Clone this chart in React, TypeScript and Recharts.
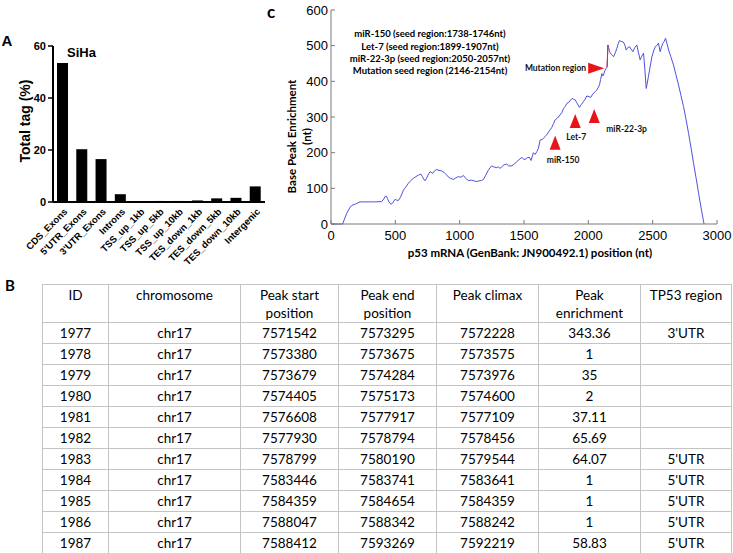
import React from 'react';
import { BarChart, Bar, XAxis, YAxis, ComposedChart, Line, Scatter } from 'recharts';

// ---------- Panel A data ----------
const regionCategories = ['CDS_Exons', "5'UTR_Exons", "3'UTR_Exons", 'Introns', 'TSS_up_1kb', 'TSS_up_5kb', 'TSS_up_10kb', 'TES_down_1kb', 'TES_down_5kb', 'TES_down_10kb', 'Intergenic'];
const totalTagPercent = [53.5, 20.3, 16.5, 3.0, 0.1, 0.4, 0.4, 0.6, 1.4, 1.6, 6.0];
const barYTicks = [0, 20, 40, 60];

// ---------- Panel C data ----------
const positionNt = [0, 90, 122, 145, 161, 190, 225, 260, 300, 340, 394, 410, 420, 430, 438, 450, 467, 480, 498, 510, 524, 540, 563, 580, 601, 620, 640, 660, 680, 697, 710, 720, 731, 745, 755, 770, 790, 805, 822, 840, 860, 880, 900, 915, 930, 951, 965, 980, 990, 1010, 1029, 1042, 1055, 1070, 1094, 1110, 1133, 1150, 1170, 1185, 1200, 1223, 1235, 1249, 1265, 1288, 1300, 1314, 1330, 1345, 1366, 1380, 1405, 1425, 1444, 1460, 1483, 1495, 1508, 1525, 1542, 1555, 1573, 1586, 1600, 1612, 1625, 1640, 1650, 1664, 1680, 1703, 1715, 1730, 1742, 1760, 1781, 1795, 1807, 1820, 1833, 1850, 1872, 1885, 1898, 1910, 1931, 1945, 1962, 1975, 1988, 2005, 2019, 2035, 2053, 2065, 2075, 2087, 2095, 2105, 2112, 2118, 2128, 2138, 2146, 2152, 2158, 2165, 2180, 2196, 2210, 2222, 2232, 2242, 2255, 2273, 2285, 2294, 2305, 2320, 2333, 2346, 2360, 2377, 2390, 2403, 2415, 2429, 2438, 2450, 2458, 2467, 2480, 2494, 2507, 2520, 2532, 2545, 2558, 2570, 2579, 2590, 2600, 2612, 2624, 2640, 2662, 2680, 2701, 2720, 2740, 2760, 2779, 2800, 2818, 2838, 2857, 2875, 2896, 2900];
const enrichmentNt = [0, 0, 30, 45, 52, 56, 62, 62, 62, 62, 63, 70, 77, 78, 72, 62, 55, 60, 69, 67, 66, 75, 95, 103, 114, 122, 128, 133, 137, 140, 133, 126, 121, 130, 138, 147, 142, 149, 153, 150, 149, 144, 137, 131, 128, 125, 128, 131, 133, 131, 136, 130, 125, 122, 123, 121, 119, 121, 122, 125, 135, 151, 157, 163, 160, 158, 160, 156, 161, 166, 168, 163, 163, 168, 175, 180, 187, 182, 181, 186, 187, 178, 200, 195, 203, 212, 235, 237, 240, 245, 252, 264, 270, 282, 292, 297, 306, 313, 324, 330, 338, 342, 352, 350, 348, 340, 327, 335, 343, 350, 359, 357, 355, 365, 371, 375, 382, 390, 405, 422, 415, 418, 430, 436, 440, 502, 495, 483, 475, 469, 480, 493, 505, 514, 512, 510, 500, 488, 494, 497, 490, 483, 494, 502, 480, 460, 470, 479, 440, 380, 395, 413, 440, 469, 485, 497, 500, 507, 483, 498, 507, 512, 521, 505, 488, 470, 446, 420, 390, 360, 329, 292, 254, 210, 170, 128, 86, 48, 6, 0];
const mutationPositionNt = [2146, 2149, 2152];
const mutationEnrichmentNt = [440, 470, 502];

const markerNames = ['miR-150', 'Let-7', 'miR-22-3p', 'Mutation region'];
const markerPositionNt = [1742, 1898, 2046, 2061];
const markerEnrichmentNt = [228, 289, 303, 437];

const seedLegendLines = [
  'miR-150 (seed region:1738-1746nt)',
  'Let-7 (seed region:1899-1907nt)',
  'miR-22-3p (seed region:2050-2057nt)',
  'Mutation seed region (2146-2154nt)',
];
const lineXTicks = [0, 500, 1000, 1500, 2000, 2500, 3000];
const lineYTicks = [0, 100, 200, 300, 400, 500, 600];

// ---------- Panel B data ----------
const tableHeaders = [['ID'], ['chromosome'], ['Peak start', 'position'], ['Peak end', 'position'], ['Peak climax'], ['Peak', 'enrichment'], ['TP53 region']];
const peakIds = ['1977', '1978', '1979', '1980', '1981', '1982', '1983', '1984', '1985', '1986', '1987'];
const peakChromosomes = ['chr17', 'chr17', 'chr17', 'chr17', 'chr17', 'chr17', 'chr17', 'chr17', 'chr17', 'chr17', 'chr17'];
const peakStarts = ['7571542', '7573380', '7573679', '7574405', '7576608', '7577930', '7578799', '7583446', '7584359', '7588047', '7588412'];
const peakEnds = ['7573295', '7573675', '7574284', '7575173', '7577917', '7578794', '7580190', '7583741', '7584654', '7588342', '7593269'];
const peakClimaxes = ['7572228', '7573575', '7573976', '7574600', '7577109', '7578456', '7579544', '7583641', '7584359', '7588242', '7592219'];
const peakEnrichments = ['343.36', '1', '35', '2', '37.11', '65.69', '64.07', '1', '1', '1', '58.83'];
const tp53Regions = ["3'UTR", '', '', '', '', '', "5'UTR", "5'UTR", "5'UTR", "5'UTR", "5'UTR"];

const barData = regionCategories.map((c, i) => ({ name: c, value: totalTagPercent[i] }));
const lineData = positionNt.map((x, i) => ({ x, y: enrichmentNt[i] }));
const mutationData = mutationPositionNt.map((x, i) => ({ x, y: mutationEnrichmentNt[i] }));
const markerData = markerNames.map((name, i) => ({ name, x: markerPositionNt[i], y: markerEnrichmentNt[i] }));
const tableRows = peakIds.map((id, i) => [id, peakChromosomes[i], peakStarts[i], peakEnds[i], peakClimaxes[i], peakEnrichments[i], tp53Regions[i]]);

const ARIAL = 'Liberation Sans, Arial, sans-serif';
const CAL = 'Lato, Open Sans, sans-serif';

const BarTick = (props: any) => {
  const { x, y, payload } = props;
  return (
    <g transform={`translate(${x + 3},${y + 2}) rotate(-45)`}>
      <text x={0} y={0} dy="0.35em" textAnchor="end" fontSize={9.5} fontWeight="bold" fontFamily={ARIAL} fill="#000">
        {payload.value}
      </text>
    </g>
  );
};

const markerStyle: Record<string, { dir: string; dx: number; dy: number; anchor: string }> = {
  'miR-150': { dir: 'up', dx: 8, dy: 17, anchor: 'middle' },
  'Let-7': { dir: 'up', dx: 1, dy: 16, anchor: 'middle' },
  'miR-22-3p': { dir: 'up', dx: 12, dy: 13, anchor: 'start' },
  'Mutation region': { dir: 'right', dx: -10, dy: 0, anchor: 'end' },
};

const MarkerShape = (props: any) => {
  const { cx, cy, payload } = props;
  const st = markerStyle[payload.name];
  const pts = st.dir === 'up'
    ? `${cx - 5.5},${cy + 7} ${cx + 5.5},${cy + 7} ${cx},${cy - 7}`
    : `${cx - 8},${cy - 5.5} ${cx - 8},${cy + 5.5} ${cx + 8},${cy}`;
  return (
    <g>
      <polygon points={pts} fill="#e8141a" />
      <text x={cx + st.dx} y={cy + st.dy} dy="0.35em" textAnchor={st.anchor} fontSize={8.5} fontWeight="bold" fontFamily={CAL} fill="#111">
        {payload.name}
      </text>
    </g>
  );
};

export default function App() {
  const axisGrey = '#7a7a7a';
  return (
    <div style={{ position: 'absolute', left: 0, top: 0, width: 733, height: 553, background: '#fff', overflow: 'hidden' }}>
      {/* Panel A */}
      <div style={{ position: 'absolute', left: 0, top: 0 }}>
        <BarChart width={280} height={280} data={barData} margin={{ top: 46, right: 15, left: 0, bottom: 0 }}>
          <XAxis dataKey="name" interval={0} height={78} tick={<BarTick />} tickLine={false} tickSize={4} tickMargin={2} axisLine={{ stroke: '#000', strokeWidth: 2 }} />
          <YAxis width={53} domain={[0, 60]} ticks={barYTicks} interval={0} tickSize={5} tickMargin={2}
            tick={{ fontSize: 11, fontWeight: 'bold', fontFamily: ARIAL, fill: '#000' }}
            tickLine={{ stroke: '#000', strokeWidth: 1.5 }} axisLine={{ stroke: '#000', strokeWidth: 2 }} />
          <Bar dataKey="value" fill="#000" barSize={11} isAnimationActive={false} />
        </BarChart>
      </div>

      {/* Panel C */}
      <div style={{ position: 'absolute', left: 270, top: 0 }}>
        <ComposedChart width={463} height={270} data={lineData} margin={{ top: 10, right: 16, left: 0, bottom: 0 }}>
          <XAxis dataKey="x" type="number" domain={[0, 3000]} ticks={lineXTicks} interval={0} height={46}
            tickSize={-4} tickMargin={11} tick={{ fontSize: 13, fontFamily: ARIAL, fill: '#000' }}
            tickLine={{ stroke: axisGrey }} axisLine={{ stroke: axisGrey }} />
          <XAxis xAxisId="top" orientation="top" dataKey="x" type="number" domain={[0, 3000]} ticks={lineXTicks} interval={0} height={0}
            tickSize={-4} tick={false} tickLine={{ stroke: axisGrey }} axisLine={{ stroke: axisGrey }} />
          <YAxis dataKey="y" type="number" domain={[0, 600]} ticks={lineYTicks} interval={0} width={61}
            tickSize={-4} tickMargin={7} tick={{ fontSize: 13, fontFamily: ARIAL, fill: '#000' }}
            tickLine={{ stroke: axisGrey }} axisLine={{ stroke: axisGrey }} />
          <YAxis yAxisId="right" orientation="right" type="number" domain={[0, 600]} ticks={lineYTicks} interval={0} width={0}
            tickSize={-4} tick={false} tickLine={{ stroke: axisGrey }} axisLine={{ stroke: axisGrey }} />
          <Line dataKey="y" data={lineData} stroke="#5050e0" strokeWidth={1} dot={false} isAnimationActive={false} />
          <Line dataKey="y" data={mutationData} stroke="#ff1a1a" strokeWidth={1} dot={false} isAnimationActive={false} />
          <Scatter dataKey="y" data={markerData} shape={<MarkerShape />} isAnimationActive={false} />
        </ComposedChart>
      </div>

      {/* Panel B table */}
      <table style={{ position: 'absolute', left: 42, top: 284, width: 689, borderCollapse: 'collapse', tableLayout: 'fixed', fontFamily: CAL, fontSize: 13.5, color: '#000' }}>
        <colgroup>
          {[66, 132, 98, 98, 102, 102, 91].map((w, i) => <col key={i} style={{ width: w }} />)}
        </colgroup>
        <tbody>
          <tr style={{ height: 38 }}>
            {tableHeaders.map((h, i) => (
              <td key={i} style={{ border: '1px solid #c4c4c4', textAlign: 'center', verticalAlign: 'top', padding: '1px 0 0 0', lineHeight: '18px' }}>
                {h.map((l, j) => <div key={j}>{l}</div>)}
              </td>
            ))}
          </tr>
          {tableRows.map((r, i) => (
            <tr key={i} style={{ height: 20.8 }}>
              {r.map((c, j) => (
                <td key={j} style={{ border: '1px solid #c4c4c4', textAlign: 'center', padding: '1px 0 0 0', lineHeight: '19px' }}>{c}</td>
              ))}
            </tr>
          ))}
        </tbody>
      </table>

      {/* Overlay text */}
      <svg width={733} height={553} style={{ position: 'absolute', left: 0, top: 0, pointerEvents: 'none' }}>
        <text x={1.5} y={45.5} fontSize={15} fontWeight="bold" fontFamily={ARIAL}>A</text>
        <text x={67} y={56.5} fontSize={13} fontWeight="bold" fontFamily={ARIAL}>SiHa</text>
        <text transform="translate(25,121) rotate(-90)" textAnchor="middle" dy="0.35em" fontSize={14} fontWeight="bold" fontFamily={ARIAL}>Total tag (%)</text>
        <text x={267} y={18} fontSize={17} fontWeight="bold" fontFamily={CAL}>c</text>
        <text x={5} y={290.5} fontSize={15} fontWeight="bold" fontFamily={CAL}>B</text>
        <text transform="translate(292,136.5) rotate(-90)" textAnchor="middle" dy="0.35em" fontSize={11.5} fontWeight="bold" fontFamily={CAL}>Base Peak Enrichment</text>
        <text transform="translate(307,136.5) rotate(-90)" textAnchor="middle" dy="0.35em" fontSize={11.5} fontWeight="bold" fontFamily={CAL}>(nt)</text>
        <text x={530} y={253} textAnchor="middle" dy="0.35em" fontSize={11.5} fontWeight="bold" fontFamily={CAL}>p53 mRNA (GenBank: JN900492.1) position (nt)</text>
        {seedLegendLines.map((l, i) => (
          <text key={i} x={430} y={34 + i * 12.2} textAnchor="middle" dy="0.35em" fontSize={9.5} fontWeight="bold" fontFamily={CAL}>{l}</text>
        ))}
      </svg>
    </div>
  );
}
